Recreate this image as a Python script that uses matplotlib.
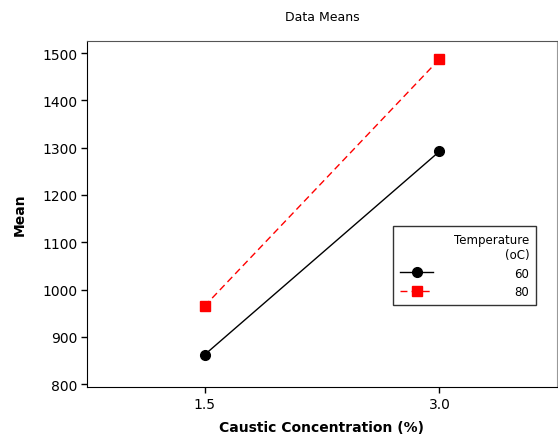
import matplotlib
matplotlib.use('Agg')
import matplotlib.pyplot as plt

concentration = [1.5, 3.0]
temps = ['60', '80']
mean_60 = [862, 1292]
mean_80 = [965, 1487]
y_ticks = [800, 900, 1000, 1100, 1200, 1300, 1400, 1500]

plt.rcParams['font.family'] = 'DejaVu Sans'

fig = plt.figure(figsize=(5.58, 4.35), dpi=100)
ax = fig.add_axes([0.156, 0.108, 0.842, 0.795])

ax.plot(concentration, mean_60, color='black', linestyle='-', linewidth=1,
        marker='o', markersize=7, label=temps[0])
ax.plot(concentration, mean_80, color='red', linestyle=(0, (5, 3)), linewidth=1,
        marker='s', markersize=6.5, label=temps[1])

ax.set_xlim(0.75, 3.75)
ax.set_ylim(794, 1525)
ax.set_xticks(concentration)
ax.set_xticklabels(['1.5', '3.0'])
ax.set_yticks(y_ticks)
ax.tick_params(direction='out', length=4, width=1, labelsize=10, pad=3)

ax.spines['top'].set_color('#555555')
ax.spines['right'].set_color('#999999')

ax.set_title('Data Means', fontsize=9, pad=15)
ax.set_xlabel('Caustic Concentration (%)', fontsize=10, fontweight='bold', labelpad=7)
ax.set_ylabel('Mean', fontsize=10, fontweight='bold', labelpad=11)

leg = ax.legend(title='Temperature\n(oC)', loc='upper left', bbox_to_anchor=(0.651, 0.465),
                frameon=True, fancybox=False, edgecolor='black', fontsize=8.5,
                title_fontsize=8.5, alignment='right', handlelength=2.8,
                handletextpad=6.9, borderpad=0.6, labelspacing=0.45,
                borderaxespad=0)
leg.get_title().set_multialignment('right')
leg.get_frame().set_linewidth(1)

fig.savefig('out.png', dpi=100)
